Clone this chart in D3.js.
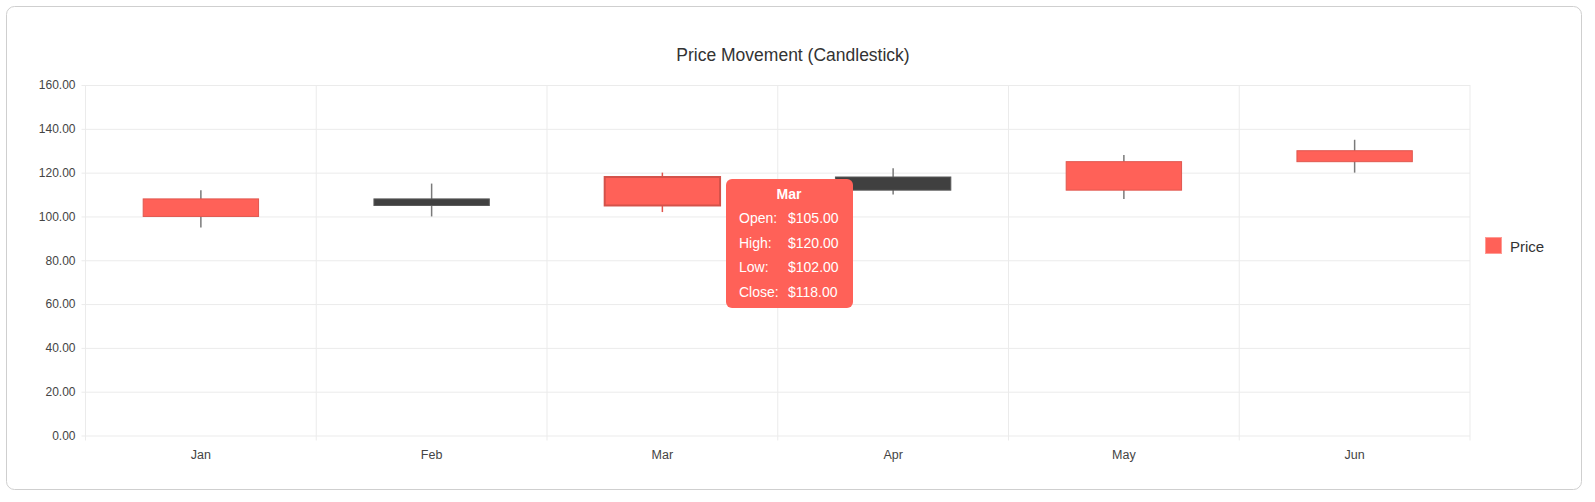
<!DOCTYPE html>
<html>
<head>
<meta charset="utf-8">
<script src="https://cdn.jsdelivr.net/npm/d3@7"></script>
<style>
  html, body { margin: 0; padding: 0; background: #fff; }
  svg { display: block; font-family: "Liberation Sans", Arial, Helvetica, sans-serif; }
</style>
</head>
<body>
<div id="chart"></div>
<script>
// data
var months     = ["Jan", "Feb", "Mar", "Apr", "May", "Jun"];
var openVals   = [100, 108, 105, 118, 112, 125];
var highVals   = [112, 115, 120, 122, 128, 135];
var lowVals    = [95, 100, 102, 110, 108, 120];
var closeVals  = [108, 105, 118, 112, 125, 130];
var yTicks     = [0, 20, 40, 60, 80, 100, 120, 140, 160];
var hoverIndex = 2;

var width  = 1595;
var height = 502;
var plot   = {left: 85.5, right: 1470, top: 85, bottom: 435.5};

var upColor   = "#ff6158";
var downColor = "#404040";

var svg = d3.select("#chart")
    .append("svg")
    .attr("width", width)
    .attr("height", height);

// card
svg.append("rect")
    .attr("x", 6.5).attr("y", 6.5)
    .attr("width", 1575).attr("height", 483)
    .attr("rx", 8)
    .attr("fill", "#fff")
    .attr("stroke", "#cfcfcf");

var x = d3.scaleBand()
    .domain(months)
    .range([plot.left, plot.right]);

var y = d3.scaleLinear()
    .domain([0, 160])
    .range([plot.bottom, plot.top]);

// title
svg.append("text")
    .attr("x", 793)
    .attr("y", 61)
    .attr("text-anchor", "middle")
    .attr("font-size", 17.5)
    .attr("fill", "#333")
    .text("Price Movement (Candlestick)");

// y axis + horizontal grid
var yAxis = svg.append("g")
    .attr("transform", "translate(" + plot.left + ",0)")
    .call(d3.axisLeft(y)
        .tickValues(yTicks)
        .tickFormat(d3.format(".2f"))
        .tickSize(-(plot.right - plot.left))
        .tickPadding(10));
yAxis.select(".domain").remove();
yAxis.selectAll("line")
    .attr("x1", -4)
    .attr("stroke", "#ebebeb");
yAxis.selectAll("text")
    .attr("font-size", 12)
    .attr("fill", "#444")
    .attr("font-family", "Liberation Sans, Arial, sans-serif");

// vertical grid at band edges
var edges = months.map(function(m){ return x(m); }).concat([plot.right]);
svg.append("g")
    .selectAll("line")
    .data(edges)
    .enter()
    .append("line")
    .attr("x1", function(d){ return d; })
    .attr("x2", function(d){ return d; })
    .attr("y1", plot.top)
    .attr("y2", plot.bottom + 5)
    .attr("stroke", "#ebebeb");

// x labels
var xAxis = svg.append("g")
    .attr("transform", "translate(0," + plot.bottom + ")")
    .call(d3.axisBottom(x).tickSize(0).tickPadding(15));
xAxis.select(".domain").remove();
xAxis.selectAll("text")
    .attr("font-size", 12.5)
    .attr("fill", "#444")
    .attr("font-family", "Liberation Sans, Arial, sans-serif");

// candles
var candles = months.map(function(m, i){
    return {m: m, o: openVals[i], h: highVals[i], l: lowVals[i], c: closeVals[i], i: i};
});
var bodyW = x.bandwidth() * 0.5;

var g = svg.append("g");
g.selectAll(".wick")
    .data(candles)
    .enter()
    .append("line")
    .attr("x1", function(d){ return x(d.m) + x.bandwidth() / 2; })
    .attr("x2", function(d){ return x(d.m) + x.bandwidth() / 2; })
    .attr("y1", function(d){ return y(d.h); })
    .attr("y2", function(d){ return y(d.l); })
    .attr("stroke", function(d){ return d.i === hoverIndex ? "#e0554d" : "#7a7a7a"; })
    .attr("stroke-width", 1.5);

g.selectAll(".body")
    .data(candles)
    .enter()
    .append("rect")
    .attr("x", function(d){ return x(d.m) + (x.bandwidth() - bodyW) / 2; })
    .attr("width", bodyW)
    .attr("y", function(d){ return y(Math.max(d.o, d.c)); })
    .attr("height", function(d){ return Math.abs(y(d.o) - y(d.c)); })
    .attr("fill", function(d){ return d.c >= d.o ? upColor : downColor; })
    .attr("stroke", function(d){
        if (d.i === hoverIndex) return "#d4524a";
        return d.c >= d.o ? "#e0574f" : "#5a5a5a";
    })
    .attr("stroke-width", function(d){ return d.i === hoverIndex ? 2 : 1; });

// legend
svg.append("rect")
    .attr("x", 1485.5).attr("y", 237.5)
    .attr("width", 16).attr("height", 16)
    .attr("fill", upColor)
    .attr("stroke", "#ff9b94");
svg.append("text")
    .attr("x", 1510)
    .attr("y", 251.5)
    .attr("font-size", 15)
    .attr("fill", "#333")
    .text("Price");

// tooltip for the hovered candle
var hd = candles[hoverIndex];
var tip = svg.append("g").attr("transform", "translate(726,179)");
tip.append("rect")
    .attr("width", 127).attr("height", 129)
    .attr("rx", 6)
    .attr("fill", upColor);
tip.append("text")
    .attr("x", 63).attr("y", 20)
    .attr("text-anchor", "middle")
    .attr("font-size", 14)
    .attr("font-weight", "bold")
    .attr("fill", "#fff")
    .text(hd.m);
var rows = [["Open:", hd.o], ["High:", hd.h], ["Low:", hd.l], ["Close:", hd.c]];
var money = d3.format("$.2f");
rows.forEach(function(r, k){
    tip.append("text")
        .attr("x", 13).attr("y", 44 + k * 24.5)
        .attr("font-size", 14)
        .attr("fill", "#fff")
        .text(r[0]);
    tip.append("text")
        .attr("x", 62).attr("y", 44 + k * 24.5)
        .attr("font-size", 14)
        .attr("fill", "#fff")
        .text(money(r[1]));
});
</script>
</body>
</html>
